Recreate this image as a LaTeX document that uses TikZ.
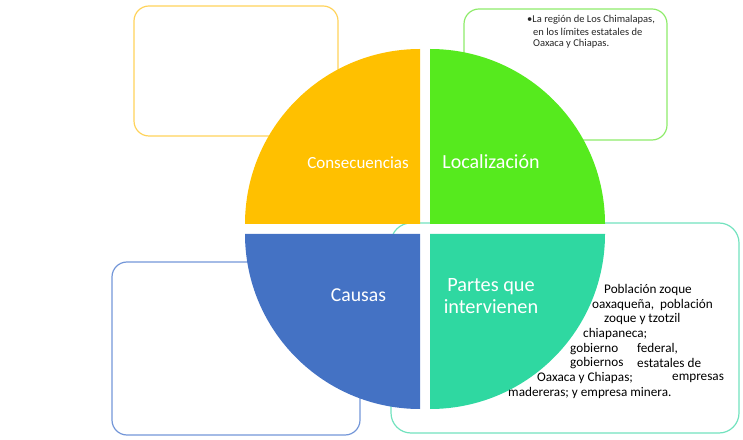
\documentclass[tikz,border=0pt]{standalone}
\usepackage{fontspec}
\setmainfont{Carlito}
\definecolor{qorange}{HTML}{FFC000}
\definecolor{qgreen}{HTML}{56EA1E}
\definecolor{qblue}{HTML}{4472C4}
\definecolor{qteal}{HTML}{2FD8A1}
\definecolor{borange}{HTML}{FFD35A}
\definecolor{bgreen}{HTML}{8EEB6A}
\definecolor{bblue}{HTML}{7396D8}
\definecolor{bteal}{HTML}{72E2BE}
\tikzset{
  infobox/.style={line width=1.2pt, rounded corners=15pt},
  quadlabel/.style={text=white, inner sep=0pt},
  smalltext/.style={text=black, inner sep=0pt, anchor=west, font=\fontsize{13.2}{15}\selectfont},
  loctext/.style={text=black!85, inner sep=0pt, anchor=west, font=\fontsize{10.5}{12}\selectfont}
}
\begin{document}
\begin{tikzpicture}[x=1pt,y=1pt]
\useasboundingbox (0,0) rectangle (743,439);
% boxes behind the circle
\draw[infobox, borange] (134,303) rectangle (338,433);
\draw[infobox, bgreen] (464,299) rectangle (667,430);
\draw[infobox, bblue] (112,4) rectangle (360,177);
\draw[infobox, bteal, rounded corners=20pt] (391,6) rectangle (739,216);
% quadrants
\fill[qorange] (420,215) -- (245,215) arc[start angle=180, end angle=90, radius=175] -- cycle;
\fill[qgreen] (430,215) -- (430,390) arc[start angle=90, end angle=0, radius=175] -- cycle;
\fill[qblue] (420,205) -- (245,205) arc[start angle=180, end angle=270, radius=175] -- cycle;
\fill[qteal] (430,205) -- (605,205) arc[start angle=0, end angle=-90, radius=175] -- cycle;
% quadrant labels
\node[quadlabel, font=\fontsize{17}{20}\selectfont] (cons) at (358,276) {Consecuencias};
\node[quadlabel, font=\fontsize{20}{24}\selectfont] (loc) at (491,277) {Localización};
\node[quadlabel, font=\fontsize{19.7}{24}\selectfont] (caus) at (358.5,144) {Causas};
\node[quadlabel, font=\fontsize{20.3}{22}\selectfont, align=center] (partes) at (491,143) {Partes que\\intervienen};
% green box text
\node[loctext] (l1) at (527,419) {•La región de Los Chimalapas,};
\node[loctext] (l2) at (533,407) {en los límites estatales de};
\node[loctext] (l3) at (533,395) {Oaxaca y Chiapas.};
% teal box text
\node[smalltext] (t1) at (604,149) {Población zoque};
\node[smalltext] (t2) at (592,134) {oaxaqueña,\ \ población};
\node[smalltext] (t3) at (604,120) {zoque y tzotzil};
\node[smalltext] (t4) at (583,105) {chiapaneca;};
\node[smalltext] (t5a) at (570,90) {gobierno};
\node[smalltext] (t5b) at (637,90) {federal,};
\node[smalltext] (t6a) at (570,76) {gobiernos};
\node[smalltext] (t6b) at (637,76) {estatales de};
\node[smalltext] (t7a) at (537,61) {Oaxaca y Chiapas;};
\node[smalltext] (t7b) at (672,61) {empresas};
\node[smalltext] (t8) at (508,46) {madereras; y empresa minera.};
\end{tikzpicture}
\end{document}
